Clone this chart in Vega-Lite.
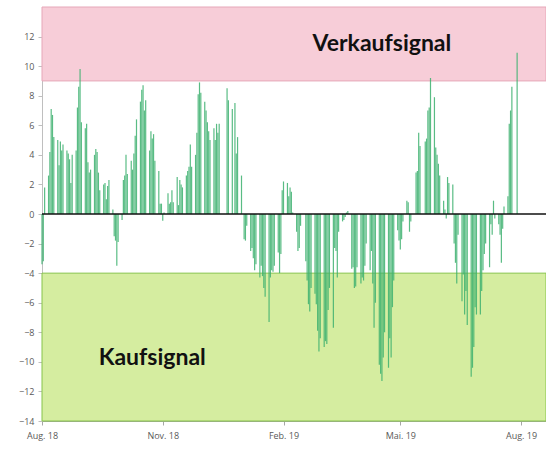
{
  "$schema": "https://vega.github.io/schema/vega-lite/v6.json",
  "width": 504,
  "height": 414,
  "autosize": {"type": "none"},
  "padding": {"left": 42, "top": 7, "right": 0, "bottom": 28},
  "background": "white",
  "config": {
    "view": {"stroke": null},
    "scale": {"continuousPadding": 0},
    "axis": {"labelOverlap": false, "grid": false, "labelFont": "Open Sans", "labelFontSize": 9, "labelColor": "#595959", "tickSize": 4}
  },
  "datasets": {
    "bars": [
      {"date": "2018-08-01", "v": -3.4}, {"date": "2018-08-02", "v": -3.2}, {"date": "2018-08-03", "v": 1.8},
      {"date": "2018-08-06", "v": 2.6}, {"date": "2018-08-07", "v": 4.2}, {"date": "2018-08-08", "v": 7.1}, {"date": "2018-08-09", "v": 6.7}, {"date": "2018-08-10", "v": 5.2},
      {"date": "2018-08-13", "v": 5.0}, {"date": "2018-08-14", "v": 3.3}, {"date": "2018-08-15", "v": 4.9}, {"date": "2018-08-16", "v": 4.3}, {"date": "2018-08-17", "v": 4.7},
      {"date": "2018-08-20", "v": 4.3}, {"date": "2018-08-21", "v": 4.1}, {"date": "2018-08-22", "v": 3.7}, {"date": "2018-08-23", "v": 2.1}, {"date": "2018-08-24", "v": 4.0},
      {"date": "2018-08-27", "v": 4.3}, {"date": "2018-08-28", "v": 7.2}, {"date": "2018-08-29", "v": 8.6}, {"date": "2018-08-30", "v": 9.8}, {"date": "2018-08-31", "v": 6.2},
      {"date": "2018-09-03", "v": 5.8}, {"date": "2018-09-04", "v": 6.1}, {"date": "2018-09-05", "v": 3.5}, {"date": "2018-09-06", "v": 2.8}, {"date": "2018-09-07", "v": 3.0},
      {"date": "2018-09-10", "v": 4.0}, {"date": "2018-09-11", "v": 4.4}, {"date": "2018-09-12", "v": 4.2}, {"date": "2018-09-13", "v": 2.8}, {"date": "2018-09-14", "v": 1.6},
      {"date": "2018-09-17", "v": 2.0}, {"date": "2018-09-18", "v": 2.1}, {"date": "2018-09-19", "v": 1.0}, {"date": "2018-09-20", "v": 1.9}, {"date": "2018-09-21", "v": 2.3},
      {"date": "2018-09-24", "v": 0.3}, {"date": "2018-09-25", "v": -1.5}, {"date": "2018-09-26", "v": -1.8}, {"date": "2018-09-27", "v": -3.5}, {"date": "2018-09-28", "v": -1.9},
      {"date": "2018-10-01", "v": -0.4}, {"date": "2018-10-02", "v": 2.3}, {"date": "2018-10-03", "v": 2.6}, {"date": "2018-10-04", "v": 4.0}, {"date": "2018-10-05", "v": 2.7},
      {"date": "2018-10-08", "v": 3.6}, {"date": "2018-10-09", "v": 3.0}, {"date": "2018-10-10", "v": 4.1}, {"date": "2018-10-11", "v": 5.3}, {"date": "2018-10-12", "v": 6.4},
      {"date": "2018-10-15", "v": 7.6}, {"date": "2018-10-16", "v": 8.4}, {"date": "2018-10-17", "v": 8.7}, {"date": "2018-10-18", "v": 7.0}, {"date": "2018-10-19", "v": 7.7},
      {"date": "2018-10-22", "v": 4.3}, {"date": "2018-10-23", "v": 5.6}, {"date": "2018-10-24", "v": 5.1}, {"date": "2018-10-25", "v": 5.4}, {"date": "2018-10-26", "v": 3.6},
      {"date": "2018-10-29", "v": 2.9}, {"date": "2018-10-30", "v": 0.7}, {"date": "2018-10-31", "v": 0.7}, {"date": "2018-11-01", "v": -0.45}, {"date": "2018-11-02", "v": 0.1},
      {"date": "2018-11-05", "v": 1.4}, {"date": "2018-11-06", "v": 0.7}, {"date": "2018-11-07", "v": 0.8}, {"date": "2018-11-08", "v": 1.6}, {"date": "2018-11-09", "v": 0.8},
      {"date": "2018-11-12", "v": 2.5}, {"date": "2018-11-13", "v": 0.6}, {"date": "2018-11-14", "v": 2.3}, {"date": "2018-11-15", "v": 2.0}, {"date": "2018-11-16", "v": 1.8},
      {"date": "2018-11-19", "v": 2.6}, {"date": "2018-11-20", "v": 2.9}, {"date": "2018-11-21", "v": 3.2}, {"date": "2018-11-22", "v": 4.7}, {"date": "2018-11-23", "v": 3.2},
      {"date": "2018-11-26", "v": 4.0}, {"date": "2018-11-27", "v": 5.5}, {"date": "2018-11-28", "v": 8.1}, {"date": "2018-11-29", "v": 8.9}, {"date": "2018-11-30", "v": 8.2},
      {"date": "2018-12-03", "v": 7.6}, {"date": "2018-12-04", "v": 7.0}, {"date": "2018-12-05", "v": 6.2}, {"date": "2018-12-06", "v": 5.6}, {"date": "2018-12-07", "v": 5.0},
      {"date": "2018-12-10", "v": 5.8}, {"date": "2018-12-11", "v": 5.0}, {"date": "2018-12-12", "v": 6.1}, {"date": "2018-12-13", "v": 5.5}, {"date": "2018-12-14", "v": 6.1},
      {"date": "2018-12-20", "v": 8.5}, {"date": "2018-12-21", "v": 7.7},
      {"date": "2018-12-24", "v": 7.1}, {"date": "2018-12-26", "v": 7.5}, {"date": "2018-12-27", "v": 4.1}, {"date": "2018-12-28", "v": 5.2},
      {"date": "2018-12-31", "v": 2.6}, {"date": "2019-01-02", "v": -1.7}, {"date": "2019-01-03", "v": -1.8}, {"date": "2019-01-04", "v": -0.8},
      {"date": "2019-01-07", "v": -2.5}, {"date": "2019-01-08", "v": -2.3}, {"date": "2019-01-09", "v": -3.0}, {"date": "2019-01-10", "v": -3.8}, {"date": "2019-01-11", "v": -3.4},
      {"date": "2019-01-14", "v": -4.3}, {"date": "2019-01-15", "v": -3.5}, {"date": "2019-01-16", "v": -4.2}, {"date": "2019-01-17", "v": -5.0}, {"date": "2019-01-18", "v": -5.6},
      {"date": "2019-01-21", "v": -7.3}, {"date": "2019-01-22", "v": -4.3}, {"date": "2019-01-23", "v": -3.8}, {"date": "2019-01-24", "v": -3.9}, {"date": "2019-01-25", "v": -3.5},
      {"date": "2019-01-28", "v": -2.6}, {"date": "2019-01-29", "v": -4.0}, {"date": "2019-01-30", "v": -2.7}, {"date": "2019-01-31", "v": 1.6}, {"date": "2019-02-01", "v": 2.2},
      {"date": "2019-02-04", "v": 2.1}, {"date": "2019-02-05", "v": 1.2}, {"date": "2019-02-06", "v": 1.8}, {"date": "2019-02-07", "v": 1.5}, {"date": "2019-02-08", "v": 0.1},
      {"date": "2019-02-11", "v": -1.2}, {"date": "2019-02-12", "v": -2.5}, {"date": "2019-02-13", "v": -2.3}, {"date": "2019-02-14", "v": -0.8},
      {"date": "2019-02-18", "v": -3.2}, {"date": "2019-02-19", "v": -4.5}, {"date": "2019-02-20", "v": -6.1}, {"date": "2019-02-21", "v": -6.6}, {"date": "2019-02-22", "v": -5.0},
      {"date": "2019-02-25", "v": -5.4}, {"date": "2019-02-26", "v": -6.1}, {"date": "2019-02-27", "v": -7.9}, {"date": "2019-02-28", "v": -9.3}, {"date": "2019-03-01", "v": -8.4},
      {"date": "2019-03-04", "v": -9.0}, {"date": "2019-03-05", "v": -8.6}, {"date": "2019-03-06", "v": -8.8}, {"date": "2019-03-07", "v": -6.5}, {"date": "2019-03-08", "v": -5.0},
      {"date": "2019-03-11", "v": -7.7}, {"date": "2019-03-12", "v": -2.3}, {"date": "2019-03-13", "v": -2.5}, {"date": "2019-03-14", "v": -4.3}, {"date": "2019-03-15", "v": -1.2},
      {"date": "2019-03-18", "v": -0.5}, {"date": "2019-03-19", "v": -0.4}, {"date": "2019-03-20", "v": -0.2}, {"date": "2019-03-21", "v": 0.1}, {"date": "2019-03-22", "v": 0.2},
      {"date": "2019-03-25", "v": -3.7}, {"date": "2019-03-26", "v": -3.6}, {"date": "2019-03-27", "v": -5.0}, {"date": "2019-03-28", "v": -4.9}, {"date": "2019-03-29", "v": -3.6},
      {"date": "2019-04-01", "v": -4.7}, {"date": "2019-04-02", "v": -4.3}, {"date": "2019-04-03", "v": -4.5}, {"date": "2019-04-04", "v": -3.5}, {"date": "2019-04-05", "v": -2.0},
      {"date": "2019-04-08", "v": -3.8}, {"date": "2019-04-09", "v": -2.5}, {"date": "2019-04-10", "v": -4.7}, {"date": "2019-04-11", "v": -7.7}, {"date": "2019-04-12", "v": -6.0},
      {"date": "2019-04-15", "v": -10.2}, {"date": "2019-04-16", "v": -10.8}, {"date": "2019-04-17", "v": -11.3}, {"date": "2019-04-18", "v": -9.7}, {"date": "2019-04-19", "v": -8.0},
      {"date": "2019-04-22", "v": -10.4}, {"date": "2019-04-23", "v": -8.4}, {"date": "2019-04-24", "v": -9.7}, {"date": "2019-04-25", "v": -6.3}, {"date": "2019-04-26", "v": -4.5},
      {"date": "2019-04-29", "v": -1.1}, {"date": "2019-04-30", "v": -1.8}, {"date": "2019-05-01", "v": -2.4}, {"date": "2019-05-02", "v": -1.7}, {"date": "2019-05-03", "v": -0.5},
      {"date": "2019-05-06", "v": 0.9}, {"date": "2019-05-07", "v": 0.8}, {"date": "2019-05-08", "v": -1.2}, {"date": "2019-05-09", "v": -0.5},
      {"date": "2019-05-13", "v": 2.8}, {"date": "2019-05-14", "v": 2.9}, {"date": "2019-05-15", "v": 5.5}, {"date": "2019-05-16", "v": 4.6},
      {"date": "2019-05-20", "v": 4.9}, {"date": "2019-05-21", "v": 5.1}, {"date": "2019-05-22", "v": 7.0}, {"date": "2019-05-23", "v": 7.2}, {"date": "2019-05-24", "v": 9.2},
      {"date": "2019-05-27", "v": 7.9}, {"date": "2019-05-28", "v": 4.5}, {"date": "2019-05-29", "v": 4.0}, {"date": "2019-05-30", "v": 3.4}, {"date": "2019-05-31", "v": 2.6},
      {"date": "2019-06-03", "v": 0.9}, {"date": "2019-06-04", "v": 0.3}, {"date": "2019-06-05", "v": -0.3}, {"date": "2019-06-06", "v": 2.5}, {"date": "2019-06-07", "v": 2.1},
      {"date": "2019-06-10", "v": 2.0}, {"date": "2019-06-11", "v": -2.0}, {"date": "2019-06-12", "v": -3.3}, {"date": "2019-06-13", "v": -4.7}, {"date": "2019-06-14", "v": -1.4},
      {"date": "2019-06-17", "v": -5.9}, {"date": "2019-06-18", "v": -4.1}, {"date": "2019-06-19", "v": -6.8}, {"date": "2019-06-20", "v": -5.2}, {"date": "2019-06-21", "v": -7.5},
      {"date": "2019-06-24", "v": -11.0}, {"date": "2019-06-25", "v": -10.4}, {"date": "2019-06-26", "v": -9.0}, {"date": "2019-06-27", "v": -6.3}, {"date": "2019-06-28", "v": -6.8},
      {"date": "2019-07-01", "v": -6.8}, {"date": "2019-07-02", "v": -5.2}, {"date": "2019-07-03", "v": -3.8}, {"date": "2019-07-04", "v": -2.7}, {"date": "2019-07-05", "v": -2.0},
      {"date": "2019-07-08", "v": -3.6}, {"date": "2019-07-09", "v": -0.7}, {"date": "2019-07-10", "v": -1.4}, {"date": "2019-07-11", "v": 0.9}, {"date": "2019-07-12", "v": -0.3},
      {"date": "2019-07-15", "v": -0.7}, {"date": "2019-07-16", "v": -1.4}, {"date": "2019-07-17", "v": -3.3}, {"date": "2019-07-18", "v": -1.0}, {"date": "2019-07-19", "v": 0.5},
      {"date": "2019-07-22", "v": 1.2}, {"date": "2019-07-23", "v": 6.1}, {"date": "2019-07-24", "v": 7.0}, {"date": "2019-07-25", "v": 8.6},
      {"date": "2019-07-29", "v": 10.9}
    ],
    "bands": [
      {"kind": "Verkauf", "start": "2018-08-01", "end": "2019-08-20", "lo": 9, "hi": 14},
      {"kind": "Kauf", "start": "2018-08-01", "end": "2019-08-20", "lo": -14, "hi": -4}
    ],
    "labels": [
      {"date": "2019-04-17", "v": 11.0, "label": "Verkaufsignal"},
      {"date": "2018-10-24", "v": -10.2, "label": "Kaufsignal"}
    ],
    "zero": [{"v": 0}]
  },
  "encoding": {
    "x": {
      "type": "temporal",
      "scale": {"type": "utc", "padding": 0, "domain": [{"year": 2018, "month": 8, "date": 1, "utc": true}, {"year": 2019, "month": 8, "date": 20, "utc": true}]},
      "axis": {
        "title": null,
        "values": [
          {"year": 2018, "month": 8, "date": 1, "utc": true},
          {"year": 2018, "month": 11, "date": 1, "utc": true},
          {"year": 2019, "month": 2, "date": 1, "utc": true},
          {"year": 2019, "month": 5, "date": 1, "utc": true},
          {"year": 2019, "month": 8, "date": 1, "utc": true}
        ],
        "labelExpr": "['Jan.','Feb.','Mär.','Apr.','Mai.','Jun.','Jul.','Aug.','Sep.','Okt.','Nov.','Dez.'][utcmonth(datum.value)] + ' ' + utcFormat(datum.value, '%y')",
        "domainColor": "#a6a6a6",
        "tickColor": "#a6a6a6",
        "labelPadding": 6,
        "labelFlush": false,
        "labelOverlap": false
      }
    },
    "y": {
      "type": "quantitative",
      "scale": {"domain": [-14, 14], "nice": false},
      "axis": {
        "title": null,
        "values": [-14, -12, -10, -8, -6, -4, -2, 0, 2, 4, 6, 8, 10, 12],
        "domainColor": "#bfbfbf",
        "tickColor": "#bfbfbf",
        "labelPadding": 4,
        "labelOverlap": false
      }
    }
  },
  "layer": [
    {
      "data": {"name": "bands"},
      "mark": {"type": "rect", "strokeWidth": 1},
      "encoding": {
        "x": {"field": "start", "type": "temporal"},
        "x2": {"field": "end"},
        "y": {"field": "lo", "type": "quantitative"},
        "y2": {"field": "hi"},
        "fill": {"field": "kind", "type": "nominal", "scale": {"domain": ["Verkauf", "Kauf"], "range": ["#f7cdd8", "#d5eda0"]}, "legend": null},
        "stroke": {"field": "kind", "type": "nominal", "scale": {"domain": ["Verkauf", "Kauf"], "range": ["#e6a7b8", "#86c44a"]}, "legend": null}
      }
    },
    {
      "data": {"name": "bars"},
      "mark": {"type": "bar", "width": 1.2, "color": "#3cb06e", "opacity": 0.85},
      "encoding": {
        "x": {"field": "date", "type": "temporal"},
        "y": {"field": "v", "type": "quantitative"}
      }
    },
    {
      "data": {"name": "zero"},
      "mark": {"type": "rule", "color": "#111111", "strokeWidth": 1.5},
      "encoding": {"y": {"field": "v", "type": "quantitative"}}
    },
    {
      "data": {"name": "labels"},
      "mark": {"type": "text", "font": "Lato", "fontWeight": "bold", "fontSize": 23, "align": "center", "baseline": "alphabetic", "color": "#111111"},
      "encoding": {
        "x": {"field": "date", "type": "temporal"},
        "y": {"field": "v", "type": "quantitative"},
        "text": {"field": "label"}
      }
    }
  ]
}
